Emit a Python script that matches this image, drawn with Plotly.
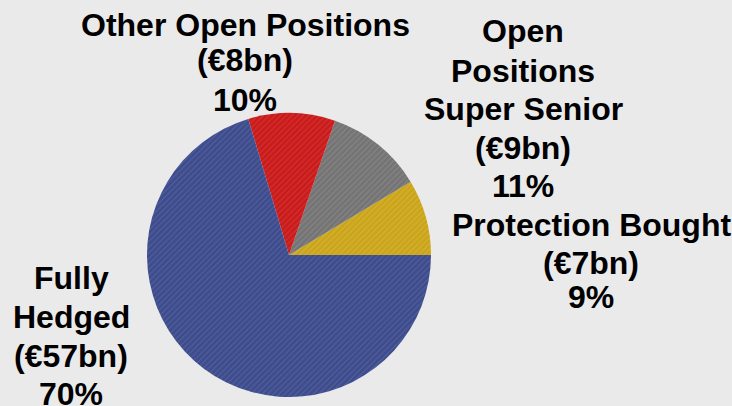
import plotly.graph_objects as go

# exposure split, EUR bn (counterclockwise from 3 o'clock)
labels = ["Protection Bought", "Open Positions Super Senior", "Other Open Positions", "Fully Hedged"]
values_bn = [7, 9, 8, 57]
shares = ["9%", "11%", "10%", "70%"]
colors = ["#c9a41c", "#747474", "#c81c1c", "#3f4c8c"]
stripes = ["#e6c64a", "#9c9c9c", "#e84848", "#6a78b8"]

BG = "#eaeaea"
W, H = 732, 406
cx, cy, r = 289, 255, 142

first_angle = 360 * values_bn[0] / sum(values_bn)

fig = go.Figure(go.Pie(
    labels=labels, values=values_bn, sort=False, direction="counterclockwise",
    rotation=90 - first_angle, textinfo="none", hoverinfo="label+value+percent",
    marker=dict(colors=colors, line=dict(width=0),
                pattern=dict(shape="/", fillmode="overlay", fgcolor=stripes,
                             size=4, solidity=0.25)),
    domain=dict(x=[(cx - r) / W, (cx + r) / W],
                y=[(H - cy - r) / H, (H - cy + r) / H]),
    showlegend=False,
))

# label lines: (text, centre x px, centre y px)
lines = [
    ("Other Open Positions", 245, 25), (f"(€{values_bn[2]}bn)", 245, 60), (shares[2], 245, 100),
    ("Open", 523, 31), ("Positions", 523, 71), ("Super Senior", 523, 109),
    (f"(€{values_bn[1]}bn)", 523, 148), (shares[1], 523, 186),
    ("Protection Bought", 591, 225), (f"(€{values_bn[0]}bn)", 591, 263), (shares[0], 591, 297),
    ("Fully", 71, 278), ("Hedged", 71, 317), (f"(€{values_bn[3]}bn)", 71, 356), (shares[3], 71, 394),
]
for text, x, y in lines:
    fig.add_annotation(
        text=text, x=x / W, y=1 - y / H, xref="paper", yref="paper",
        xanchor="center", yanchor="middle", align="center", showarrow=False,
        font=dict(family="Liberation Sans, Arial, sans-serif", size=32, color="#000000",
                  weight="bold"),
    )

fig.update_layout(
    width=W, height=H, paper_bgcolor=BG, plot_bgcolor=BG,
    margin=dict(l=0, r=0, t=0, b=0),
)
# drop the default 8px body margin so the figure fills the window
fig.write_html("out.html", config={"displayModeBar": False},
               post_script="document.body.style.margin='0';")
